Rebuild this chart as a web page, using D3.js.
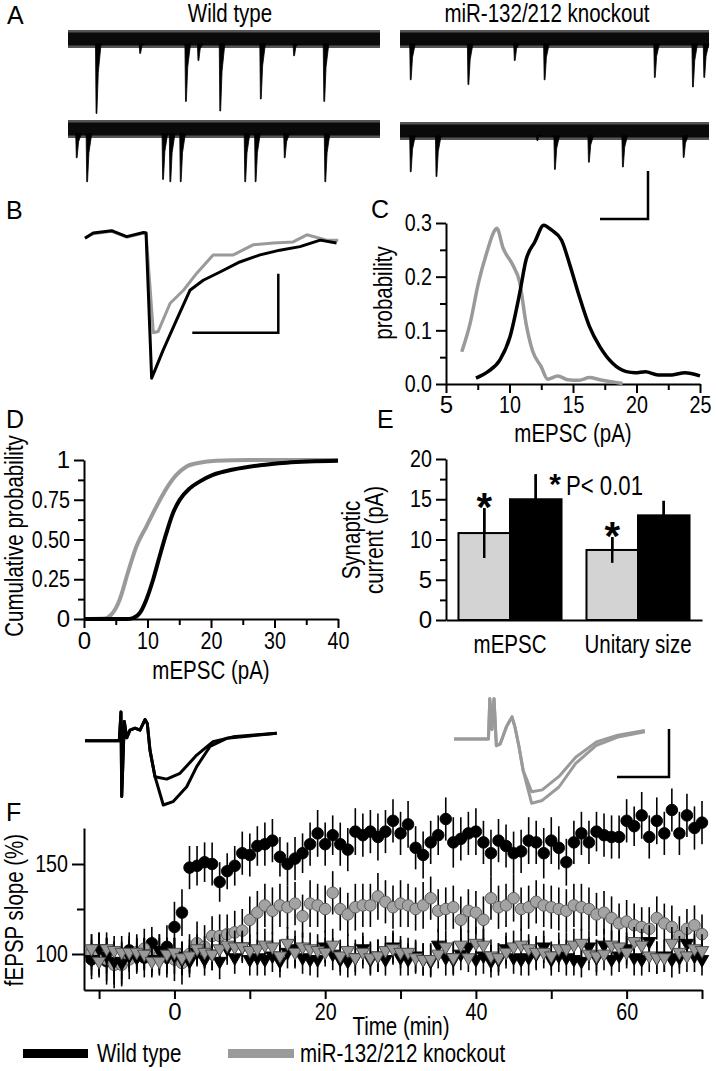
<!DOCTYPE html>
<html><head><meta charset="utf-8">
<script src="https://cdn.jsdelivr.net/npm/d3@7"></script>
<style>
html,body{margin:0;padding:0;background:#fff;}
svg{display:block;}
</style></head><body>
<svg id="fig" width="716" height="1071"></svg>
<script>
// ================= DATA =================
// Panel A: spontaneous events [time (s), amplitude (pA)]
const eventsWT1 = [[0.27,31],[0.69,6],[1.13,26],[1.25,9],[1.46,30],[1.85,25],[2.17,7],[2.46,26]];
const eventsWT2 = [[0.08,12],[0.18,22],[0.91,21],[0.98,22],[1.08,22],[1.70,22],[1.80,22],[2.08,12],[2.47,22]];
const eventsKO1 = [[0.10,17],[0.66,19],[1.11,9],[1.40,17],[2.47,16],[2.84,20],[2.95,16]];
const eventsKO2 = [[0.10,17],[0.35,19],[1.33,4],[1.50,16],[1.83,13],[2.16,15],[2.75,11]];

// Panel B: average mEPSC [time (ms), current (pA)]
const traceBWT = [[0,-0.4],[1.9,0.5],[6.2,0.9],[9.7,-0.1],[13.6,0.6],[14.2,0.5],[15.5,-24.1],[16.3,-22.7],[18.2,-19.3],[21.3,-14.2],[24.4,-9.2],[27.5,-7.5],[31.4,-6.1],[36.0,-4.4],[40.7,-3.2],[45.3,-2.4],[50,-1.8],[54.7,-0.7],[58.5,-1.2]];
const traceBKO = [[0,-0.3],[1.9,0.4],[6.2,0.8],[9.7,-0.2],[13.6,0.5],[14.2,0.5],[15.9,-16.4],[17.0,-16.2],[19.8,-11.4],[22.9,-9.2],[26.0,-6.3],[29.8,-3.2],[34.5,-3.2],[39.1,-1.5],[43.8,-1.2],[48.4,-1.0],[51.6,0.2],[56.2,-0.7],[58.9,-0.7]];

// Panel C: amplitude distribution [mEPSC (pA), probability]
const distKO = [[6.24,0.060],[6.9,0.113],[7.55,0.188],[8.2,0.244],[8.86,0.287],[9.0,0.29],[9.5,0.253],[10.25,0.222],[10.8,0.19],[11.3,0.113],[11.8,0.063],[12.5,0.032],[13.0,0.009],[13.8,0.015],[14.6,0.008],[15.5,0.007],[16.3,0.012],[17.1,0.008],[18.1,0.004],[18.9,0.001]];
const distWT = [[7.36,0.011],[8.3,0.023],[9.25,0.045],[10.04,0.088],[10.8,0.169],[11.3,0.231],[12.0,0.265],[12.7,0.296],[13.3,0.287],[14.1,0.268],[14.75,0.222],[15.5,0.163],[16.3,0.107],[17.1,0.07],[18.1,0.039],[19.2,0.023],[19.9,0.021],[20.7,0.023],[21.7,0.017],[22.8,0.017],[23.8,0.021],[25,0.015]];

// Panel D: cumulative probability [mEPSC (pA), cum. prob]
const cumKO = [[0,0],[3.26,0.003],[4.3,0.027],[5.6,0.12],[6.9,0.29],[8.25,0.456],[9.8,0.58],[11.4,0.707],[12.97,0.82],[14.55,0.906],[16.1,0.958],[18.2,0.983],[20.8,0.995],[26.1,1.0],[40,1.0]];
const cumWT = [[0,0],[6.7,0],[7.7,0.006],[8.8,0.038],[9.8,0.12],[10.9,0.25],[11.9,0.393],[12.97,0.54],[14.0,0.665],[15.07,0.749],[16.6,0.82],[18.2,0.864],[20.3,0.906],[23.5,0.94],[27.7,0.967],[31.9,0.983],[40,0.995]];

// Panel E: bars
const barCategories = ["mEPSC", "Unitary size"];
const barKO = [10.8, 8.7];
const barKOerr = [3.1, 1.6];
const barWT = [15.0, 13.0];
const barWTerr = [3.1, 1.8];

// Panel F: fEPSP slope (%) vs time (min), t = -11 ... 70
const timeF = d3.range(-11, 71);
const ltpWT = [97,100,96,95,95,102,99,98,106,101,
  104,115,123,148,149,151,150,140,146,149,
  156,155,160,161,163,154,150,153,156,161,
  167,161,166,161,158,168,166,168,165,168,
  174,167,172,159,155,162,166,175,162,164,
  167,168,162,156,163,160,156,157,163,162,
  156,163,159,151,162,167,162,168,166,165,
  165,174,171,177,165,174,167,180,167,177,
  170,173];
const ltpKO = [101,100,97,94,94,97,101,103,100,99,
  98,97,95,100,106,104,110,110,111,112,
  113,119,123,127,124,127,126,128,121,128,
  127,125,134,125,122,126,127,127,132,129,
  126,128,127,125,127,131,124,125,126,119,
  124,123,119,131,126,127,131,125,126,129,
  127,126,125,124,127,126,125,122,123,120,
  117,118,116,115,114,120,117,115,110,114,
  116,111];
const ctlWT = [97,103,99,96,95,99,98,100,97,102,
  98,99,97,96,101,97,100,96,103,98,
  104,97,98,97,99,96,101,103,98,97,
  97,104,100,97,96,98,103,97,99,97,
  104,98,97,99,97,96,105,98,97,100,
  104,97,99,96,97,103,98,97,98,100,
  104,97,99,98,97,96,104,98,105,97,
  99,103,98,97,107,98,99,97,98,106,
  99,97];
const ctlKO = [103,96,103,102,101,101,101,100,96,96,
  100,101,98,99,103,101,100,103,105,104,
  104,102,103,105,104,99,106,101,104,103,
  102,101,105,99,102,98,101,98,99,102,
  103,101,101,98,97,97,100,104,98,105,
  98,106,105,99,98,101,104,105,103,101,
  101,99,103,103,105,106,100,99,100,105,
  104,101,107,105,99,98,98,106,101,99,
  103,102];
const errLtpWT = [11,12,13,12,12,10,10,11,9,10,
  12,14,13,12,11,11,12,11,10,11,
  12,12,11,12,12,11,12,12,11,12,
  13,12,11,12,12,13,12,12,13,12,
  12,12,13,12,13,12,11,12,14,12,
  12,13,12,13,12,12,12,12,13,12,
  14,13,12,13,12,12,12,11,12,12,
  12,12,11,13,12,13,12,12,12,12,
  12,12];
const errLtpKO = [10,11,12,13,12,11,10,11,10,10,
  11,12,12,11,12,12,11,12,11,12,
  12,13,12,12,13,12,12,12,12,13,
  12,13,12,12,12,13,12,12,13,12,
  12,13,12,12,13,12,12,12,12,13,
  12,12,13,12,12,12,13,12,12,12,
  12,12,12,12,12,13,12,12,12,12,
  11,12,12,11,12,12,11,12,11,11,
  11,11];
const errCtlWT = [9,9,10,9,9,9,8,9,9,9,
  9,10,9,9,8,9,9,10,9,9,
  9,9,10,9,9,9,9,10,9,9,
  10,9,9,9,9,10,9,9,9,9,
  9,10,9,9,9,9,9,10,9,9,
  9,9,10,9,9,9,9,9,10,9,
  9,9,9,10,9,9,9,10,9,9,
  9,9,10,9,9,9,9,10,9,9,
  9,9];
const errCtlKO = [8,9,9,8,9,9,8,9,9,8,
  9,8,9,9,8,9,9,8,9,9,
  8,9,9,9,8,9,9,9,8,9,
  9,8,9,9,9,8,9,9,9,8,
  9,9,8,9,9,9,8,9,9,9,
  8,9,9,9,8,9,9,9,8,9,
  9,8,9,9,9,8,9,9,9,8,
  9,9,8,9,9,9,8,9,9,9,
  8,9];

// Panel F insets: fEPSP waveforms [time (ms), mV]
const fWTsmall = [[0,0],[6.6,0],[6.92,0.30],[7.06,-0.58],[7.56,0.20],[8.02,0.03],[8.65,0.11],[9.62,0.13],[10.58,0.11],[11.54,0.22],[11.98,0.18],[12.5,-0.10],[13.46,-0.375],[15.71,-0.40],[18.27,-0.34],[21.48,-0.15],[24.62,-0.01],[28.46,0.04],[32.5,0.06],[36.87,0.077]];
const fWTlarge = [[0,0],[6.6,0],[6.92,0.30],[7.06,-0.58],[7.56,0.20],[8.02,0.03],[8.65,0.11],[9.62,0.13],[10.58,0.11],[11.54,0.22],[11.98,0.18],[12.5,-0.10],[13.46,-0.375],[15.06,-0.67],[16.92,-0.635],[19.56,-0.48],[21.48,-0.27],[24.04,-0.06],[27.25,0.025],[31.7,0.05],[36.87,0.077]];
const fKOsmall = [[0,0],[6.63,0],[6.88,0.42],[7.3,0.1],[7.7,0.42],[8.15,-0.07],[8.9,-0.05],[10.1,0.13],[11.15,0.23],[11.7,0.13],[12.5,-0.08],[13.3,-0.33],[14.94,-0.55],[16.96,-0.53],[20.19,-0.39],[23.4,-0.19],[27.4,-0.03],[31.5,0.04],[36.7,0.09]];
const fKOlarge = [[0,0],[6.63,0],[6.88,0.42],[7.3,0.1],[7.7,0.42],[8.15,-0.07],[8.9,-0.05],[10.1,0.13],[11.15,0.23],[11.7,0.13],[12.5,-0.08],[13.3,-0.33],[14.94,-0.67],[16.96,-0.64],[20.19,-0.50],[23.4,-0.255],[27.4,-0.065],[31.5,0.02],[36.7,0.075]];

// ================= DRAWING =================
const svg = d3.select("#fig");
const FF = '"Liberation Sans", Arial, Helvetica, sans-serif';
const GRAY = "#9a9a9a";
const FS = 25;      // titles / labels
const TFS = 24;     // tick labels
const CONDENSE = 0.82;  // narrow (Arial-Narrow-like) lettering

function addText(x, y, s, size = FS, anchor = "start", rotate = false, weight = null) {
  const t = svg.append("text").attr("x", x).attr("y", y)
    .attr("font-size", size).attr("text-anchor", anchor).attr("fill", "#000")
    .attr("font-family", FF).text(s);
  if (rotate) t.attr("transform", `rotate(-90,${x},${y})`);
  if (weight) t.attr("font-weight", weight);
  return t;
}

function drawAxis(orient, scale, pos, major, minor, fmt, opts = {}) {
  const make = orient === "left" ? d3.axisLeft : d3.axisBottom;
  const tr = orient === "left" ? `translate(${pos},0)` : `translate(0,${pos})`;
  const g = svg.append("g").attr("transform", tr);
  g.call(make(scale).tickValues(major).tickSize(opts.size ?? 10)
    .tickSizeOuter(0).tickPadding(opts.pad ?? 4).tickFormat(fmt));
  g.attr("font-family", FF).attr("font-size", TFS);
  g.select(".domain").attr("stroke", "#000").attr("stroke-width", 2);
  g.selectAll(".tick line").attr("stroke", "#000").attr("stroke-width", 2);
  g.selectAll(".tick text").attr("fill", "#000");
  if (minor && minor.length) {
    const gm = svg.append("g").attr("transform", tr);
    gm.call(make(scale).tickValues(minor).tickSize(opts.minorSize ?? 6).tickSizeOuter(0).tickFormat(""));
    gm.select(".domain").remove();
    gm.selectAll(".tick line").attr("stroke", "#000").attr("stroke-width", 2);
  }
  return g;
}

// ---------- Panel A ----------
addText(7, 24, "A");
addText(230, 22, "Wild type", FS, "middle");
addText(547, 22, "miR-132/212 knockout", FS, "middle");

const ampPx = 2.4; // px per pA
function drawRaw(events, x0, x1, baseY) {
  const x = d3.scaleLinear().domain([0, 3]).range([x0, x1]);
  const y = d3.scaleLinear().domain([0, 10]).range([baseY, baseY + 10 * ampPx]);
  const g = svg.append("g");
  const base = d3.line()([[x(0), y(0)], [x(3), y(0)]]);
  g.append("path").attr("d", base).attr("stroke", "#555").attr("stroke-width", 18).attr("fill", "none");
  g.append("path").attr("d", base).attr("stroke", "#0a0a0a").attr("stroke-width", 13).attr("fill", "none");
  events.forEach(([t, a]) => {
    const xe = x(t);
    const pts = [[xe - 0.6, y(2)], [xe, y(a)], [xe + 0.8, y(a)], [xe + 2.2, y(a * 0.45)], [xe + 5, y(2)]];
    g.append("path").attr("d", d3.line()(pts) + "Z").attr("fill", "#000")
      .attr("stroke", "#000").attr("stroke-width", 0.8).attr("stroke-linejoin", "round");
  });
}
drawRaw(eventsWT1, 68, 380, 39);
drawRaw(eventsWT2, 68, 380, 129);
drawRaw(eventsKO1, 400, 709, 39);
drawRaw(eventsKO2, 400, 709, 131);
// scale bar A (20 pA / 0.5 s)
svg.append("path").attr("d", d3.line()([[600, 219], [648, 219], [648, 219 - 20 * ampPx]]))
  .attr("stroke", "#000").attr("stroke-width", 2.5).attr("fill", "none");

// ---------- Panel B ----------
addText(6, 219, "B");
const xB = d3.scaleLinear().domain([0, 60]).range([85, 343]);
const yB = d3.scaleLinear().domain([0, -10]).range([236, 295]);
const lineB = d3.line().x(d => xB(d[0])).y(d => yB(d[1]));
svg.append("path").attr("d", lineB(traceBKO)).attr("stroke", GRAY).attr("stroke-width", 3).attr("fill", "none").attr("stroke-linejoin", "round");
svg.append("path").attr("d", lineB(traceBWT)).attr("stroke", "#000").attr("stroke-width", 3).attr("fill", "none").attr("stroke-linejoin", "round");
{
  const cx = 278.3, cy = 332.7;
  const w = xB(20) - xB(0), h = yB(-10) - yB(0);
  svg.append("path").attr("d", d3.line()([[cx - w, cy], [cx, cy], [cx, cy - h]]))
    .attr("stroke", "#000").attr("stroke-width", 2.5).attr("fill", "none");
}

// ---------- Panel C ----------
addText(371, 218, "C");
const xC = d3.scaleLinear().domain([5, 25]).range([446, 700]);
const yC = d3.scaleLinear().domain([0, 0.3]).range([384, 223]);
drawAxis("left", yC, 446, [0, 0.1, 0.2, 0.3], [0.05, 0.15, 0.25], d3.format(".1f"));
drawAxis("bottom", xC, 384, [5, 10, 15, 20, 25], [7.5, 12.5, 17.5, 22.5], d3.format("d"), { size: 9, pad: 3 });
const lineC = d3.line().x(d => xC(d[0])).y(d => yC(d[1])).curve(d3.curveMonotoneX);
svg.append("path").attr("d", lineC(distKO)).attr("stroke", GRAY).attr("stroke-width", 3.5).attr("fill", "none");
svg.append("path").attr("d", lineC(distWT)).attr("stroke", "#000").attr("stroke-width", 3.5).attr("fill", "none");
addText(392, 293, "probability", FS, "middle", true);
addText(573, 442, "mEPSC (pA)", FS, "middle");

// ---------- Panel D ----------
addText(6, 428, "D");
const xD = d3.scaleLinear().domain([0, 40]).range([84, 338]);
const yD = d3.scaleLinear().domain([0, 1]).range([619, 460]);
const dLabels = { 0: "0", 0.25: "0.25", 0.5: "0.50", 0.75: "0.75", 1: "1" };
drawAxis("left", yD, 84, [0, 0.25, 0.5, 0.75, 1], [0.125, 0.375, 0.625, 0.875], d => dLabels[d]);
drawAxis("bottom", xD, 619, [0, 10, 20, 30, 40], [5, 15, 25, 35], d3.format("d"), { size: 9 });
const lineD = d3.line().x(d => xD(d[0])).y(d => yD(d[1])).curve(d3.curveMonotoneX);
svg.append("path").attr("d", lineD(cumKO)).attr("stroke", GRAY).attr("stroke-width", 4).attr("fill", "none");
svg.append("path").attr("d", lineD(cumWT)).attr("stroke", "#000").attr("stroke-width", 4).attr("fill", "none");
addText(23, 536, "Cumulative probability", FS, "middle", true);
addText(211, 679, "mEPSC (pA)", FS, "middle");

// ---------- Panel E ----------
addText(377, 428, "E");
const yE = d3.scaleLinear().domain([0, 20]).range([620, 459]);
const xE = d3.scaleBand().domain(barCategories).range([446, 702]).paddingInner(0.195).paddingOuter(0.0975);
const xSub = d3.scaleBand().domain(["KO", "WT"]).range([0, xE.bandwidth()]);
drawAxis("left", yE, 446, [0, 5, 10, 15, 20], [2.5, 7.5, 12.5, 17.5], d3.format("d"));
{
  const g = svg.append("g").attr("transform", "translate(0,620)");
  g.call(d3.axisBottom(xE).tickSize(0).tickSizeOuter(0).tickPadding(15));
  g.attr("font-family", FF).attr("font-size", FS);
  g.select(".domain").attr("stroke", "#000").attr("stroke-width", 2);
  g.selectAll(".tick text").attr("fill", "#000");
}
barCategories.forEach((c, i) => {
  const groups = [["KO", barKO[i], barKOerr[i], "#d3d3d3"], ["WT", barWT[i], barWTerr[i], "#000"]];
  groups.forEach(([k, v, e, col]) => {
    const x0 = xE(c) + xSub(k);
    const cx = x0 + xSub.bandwidth() / 2;
    svg.append("line").attr("x1", cx).attr("x2", cx).attr("y1", yE(v - e)).attr("y2", yE(v + e))
      .attr("stroke", "#000").attr("stroke-width", 2.5);
    svg.append("rect").attr("x", x0).attr("y", yE(v)).attr("width", xSub.bandwidth()).attr("height", yE(0) - yE(v))
      .attr("fill", col).attr("stroke", "#000").attr("stroke-width", 2);
    svg.append("line").attr("x1", cx).attr("x2", cx).attr("y1", yE(v - e)).attr("y2", yE(v + e))
      .attr("stroke", "#000").attr("stroke-width", 2.5);
    if (k === "KO") addText(cx, yE(v + e) - 9 + 22, "*", 40, "middle", false, "bold");
  });
});
addText(555, 494, "*", 30, "middle", false, "bold");
addText(566, 495, "P< 0.01", 27, "start");
addText(360, 540, "Synaptic", FS, "middle", true);
addText(383, 540, "current (pA)", FS, "middle", true);

// ---------- Panel F insets ----------
addText(6, 821, "F");
const xFiW = d3.scaleLinear().domain([0, 40]).range([85, 293]);
const yFiW = d3.scaleLinear().domain([0, 1]).range([740.7, 644.7]);
const xFiK = d3.scaleLinear().domain([0, 40]).range([454, 662]);
const yFiK = d3.scaleLinear().domain([0, 1]).range([739, 643]);
const lW = d3.line().x(d => xFiW(d[0])).y(d => yFiW(d[1]));
const lK = d3.line().x(d => xFiK(d[0])).y(d => yFiK(d[1]));
[fWTsmall, fWTlarge].forEach(tr => svg.append("path").attr("d", lW(tr)).attr("stroke", "#000").attr("stroke-width", 3).attr("fill", "none").attr("stroke-linejoin", "round"));
[fKOsmall, fKOlarge].forEach(tr => svg.append("path").attr("d", lK(tr)).attr("stroke", GRAY).attr("stroke-width", 3).attr("fill", "none").attr("stroke-linejoin", "round"));
{
  const cx = 669, cy = 777;
  const w = xFiK(10) - xFiK(0), h = yFiK(0) - yFiK(0.5);
  svg.append("path").attr("d", d3.line()([[cx - w, cy], [cx, cy], [cx, cy - h]]))
    .attr("stroke", "#000").attr("stroke-width", 2.5).attr("fill", "none");
}

// ---------- Panel F main ----------
const xF = d3.scaleLinear().domain([-12, 70]).range([84, 702]);
const yF = d3.scaleLinear().domain([80, 170]).range([990, 828]);
drawAxis("left", yF, 84, [100, 150], [125], d3.format("d"), { size: 12, minorSize: 7 });
drawAxis("bottom", xF, 990, [-10, 0, 10, 20, 30, 40, 50, 60, 70], [], d => (d >= 0 && d % 20 === 0) ? d : "", { size: 9 });
addText(23, 910, "fEPSP slope (%)", FS, "middle", true);
addText(401, 1035, "Time (min)", FS, "middle");

const circleSym = d3.symbol().type(d3.symbolCircle).size(105);
const triSym = d3.symbol().type(d3.symbolTriangle).size(78);
function drawSeries(vals, errs, sym, fill, stroke, down) {
  const g = svg.append("g");
  g.selectAll("line").data(vals).join("line")
    .attr("x1", (d, i) => xF(timeF[i])).attr("x2", (d, i) => xF(timeF[i]))
    .attr("y1", (d, i) => yF(d - errs[i])).attr("y2", (d, i) => yF(d + errs[i]))
    .attr("stroke", "#000").attr("stroke-width", 1.6);
  g.selectAll("path").data(vals).join("path")
    .attr("d", sym)
    .attr("transform", (d, i) => `translate(${xF(timeF[i])},${yF(d)})` + (down ? " rotate(180)" : ""))
    .attr("fill", fill).attr("stroke", stroke).attr("stroke-width", 0.9);
}
drawSeries(ltpWT, errLtpWT, circleSym, "#000", "#000", false);
drawSeries(ltpKO, errLtpKO, circleSym, "#a3a3a3", "#555", false);
drawSeries(ctlWT, errCtlWT, triSym, "#000", "#000", true);
drawSeries(ctlKO, errCtlKO, triSym, "#999", "#444", true);

// Legend
svg.append("rect").attr("x", 23).attr("y", 1049).attr("width", 65).attr("height", 9).attr("fill", "#000");
addText(97, 1062, "Wild type");
svg.append("rect").attr("x", 228).attr("y", 1049).attr("width", 66).attr("height", 9).attr("fill", GRAY);
addText(300, 1062, "miR-132/212 knockout");

// Condense all lettering (narrow sans look of the original figure)
svg.selectAll("text").each(function () {
  const s = this.textContent;
  if (!s || s.trim().length < 2) return;
  const w = this.getComputedTextLength();
  d3.select(this).attr("textLength", (w * CONDENSE).toFixed(2)).attr("lengthAdjust", "spacingAndGlyphs");
});
</script>
</body></html>
